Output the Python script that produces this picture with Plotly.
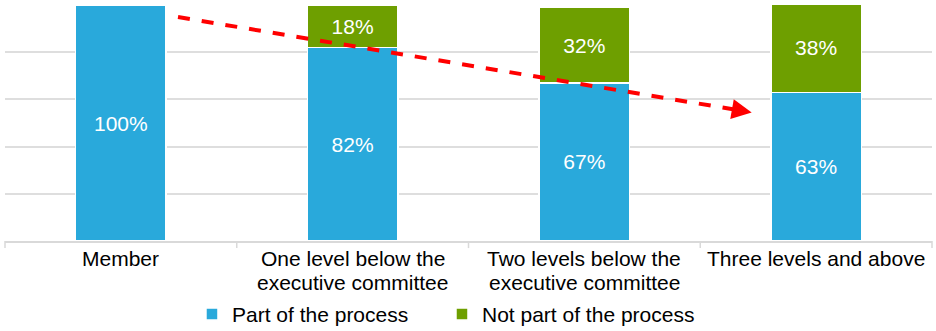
import plotly.graph_objects as go

categories = [
    ["Member"],
    ["One level below the", "executive committee"],
    ["Two levels below the", "executive committee"],
    ["Three levels and above"],
]
part_of_process = [100, 82, 67, 63]
not_part_of_process = [0, 18, 32, 38]

BLUE = "#29A9DB"
GREEN = "#6E9F00"
AXIS_GREY = "#D9D9D9"
FONT = "Liberation Sans, Arial, sans-serif"
PLOT_H = 236  # plot area height in px (331 - top 5 - bottom 90)

x_idx = list(range(len(categories)))

fig = go.Figure()
fig.add_trace(go.Bar(
    x=x_idx, y=[v / 100 for v in part_of_process],
    name="Part of the process", legend="legend",
    marker=dict(color=BLUE, line=dict(color="white", width=1.5)),
    text=[f"{v}%" for v in part_of_process],
    textposition="inside", insidetextanchor="middle",
    textfont=dict(color="white", size=21, family=FONT),
))
fig.add_trace(go.Bar(
    x=x_idx, y=[v / 100 for v in not_part_of_process],
    name="Not part of the process", legend="legend2",
    marker=dict(color=GREEN, line=dict(color="white", width=1.5)),
    text=[f"{v}%" if v else "" for v in not_part_of_process],
    textposition="inside", insidetextanchor="middle",
    textfont=dict(color="white", size=21, family=FONT),
))

# Dashed trend arrow across the bars
x0, y0 = 0.2465, 0.949
x1, y1 = 2.66, 0.555
tip_x, tip_y = 2.722, 0.544
fig.add_shape(type="line", xref="x", yref="y", x0=x0, y0=y0, x1=x1, y1=y1,
              line=dict(color="#FF0000", width=4, dash="dash"))
fig.add_annotation(x=tip_x, y=tip_y, ax=x1 - 0.01, ay=y1 + 0.0016,
                   xref="x", yref="y", axref="x", ayref="y",
                   text="", showarrow=True, arrowhead=2, arrowsize=1.0,
                   arrowwidth=4, arrowcolor="#FF0000")

# Category boundary ticks below the baseline
for k in range(len(categories) + 1):
    fig.add_shape(type="line", xref="paper", yref="paper",
                  x0=k / len(categories), x1=k / len(categories), y0=0, y1=-0.03,
                  line=dict(color=AXIS_GREY, width=1.5))

# Category labels, one text line per annotation for tight line spacing
line_offsets = [17, 41]  # px below the baseline for each text line
for i, lines in enumerate(categories):
    for j, line in enumerate(lines):
        fig.add_annotation(x=i, xref="x", y=-line_offsets[j] / PLOT_H, yref="paper",
                           text=line, showarrow=False, yanchor="middle",
                           font=dict(size=21, family=FONT, color="#000000"))

legend_style = dict(orientation="h", xanchor="left", y=-0.311, yanchor="middle",
                    bgcolor="rgba(0,0,0,0)", itemwidth=30,
                    font=dict(size=21, family=FONT, color="#000000"))

fig.update_layout(
    barmode="stack",
    bargap=0.61,
    width=936, height=331,
    margin=dict(l=5, r=4, t=5, b=90, autoexpand=False),
    plot_bgcolor="white", paper_bgcolor="white",
    font=dict(family=FONT, size=21, color="#000000"),
    showlegend=True,
    legend=dict(x=0.2017, **legend_style),
    legend2=dict(x=0.4714, **legend_style),
    uniformtext=dict(mode="show", minsize=10),
)
fig.update_xaxes(
    range=[-0.5, 3.5], automargin=False, showticklabels=False,
    showgrid=False, showline=True, linecolor=AXIS_GREY, linewidth=1.5,
    ticks="",
)
fig.update_yaxes(
    range=[0, 1.0], dtick=0.2, showticklabels=False,
    showgrid=True, gridcolor="#DEDEDE", gridwidth=1.5,
    zeroline=False, showline=False,
)

fig.write_html("out.html")
